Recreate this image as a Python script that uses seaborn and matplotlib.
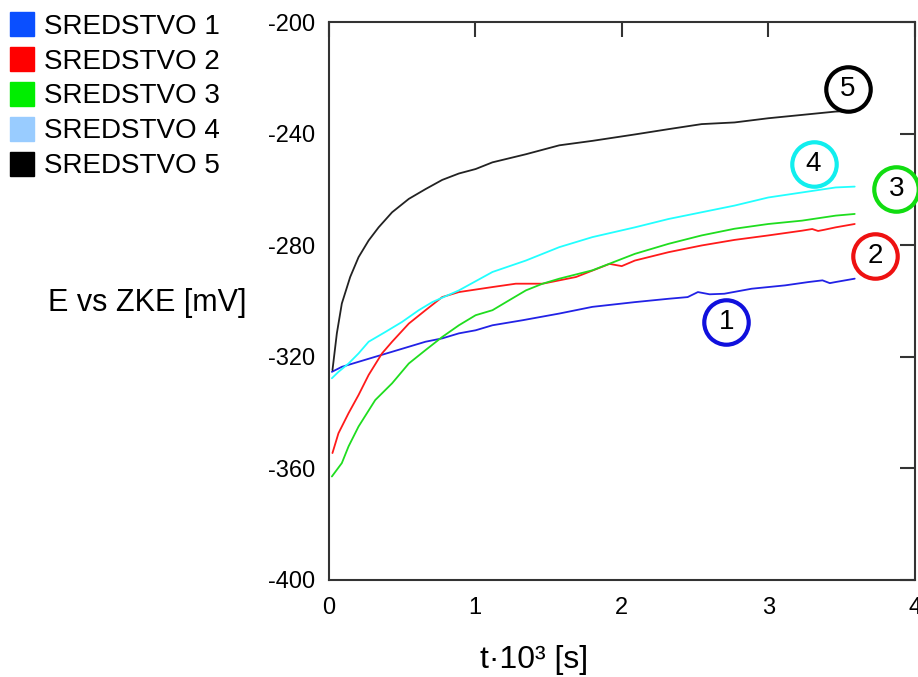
import matplotlib
matplotlib.use("Agg")
import matplotlib.pyplot as plt
from matplotlib.lines import Line2D
import pandas as pd
import seaborn as sns

# values (t in 10^3 s, E in mV)
t1 = [0.022, 0.09, 0.204, 0.318, 0.433, 0.547, 0.661, 0.775, 0.889, 1.003, 1.118, 1.323,
      1.574, 1.80, 2.09, 2.32, 2.45, 2.52, 2.60, 2.70, 2.887, 3.115, 3.275, 3.37, 3.42, 3.46, 3.59]
e1 = [-325.4, -323.6, -321.8, -320.0, -318.2, -316.4, -314.6, -313.4, -311.6, -310.5, -308.7, -306.9,
      -304.5, -302.1, -300.4, -299.2, -298.6, -296.8, -297.6, -297.4, -295.6, -294.4, -293.2, -292.6,
      -293.6, -293.2, -292.0]

t2 = [0.026, 0.067, 0.136, 0.204, 0.273, 0.364, 0.433, 0.547, 0.661, 0.775, 0.889, 1.118, 1.277,
      1.46, 1.688, 1.917, 2.0, 2.09, 2.32, 2.545, 2.77, 3.0, 3.23, 3.30, 3.34, 3.38, 3.46, 3.59]
e2 = [-354.5, -347.4, -340.2, -333.7, -326.5, -318.8, -314.6, -308.1, -303.3, -298.6, -296.8, -295.0,
      -293.8, -293.8, -291.4, -286.7, -287.5, -285.5, -282.5, -280.1, -278.1, -276.5, -274.8, -274.2,
      -274.9, -274.5, -273.6, -272.4]

t3 = [0.022, 0.09, 0.136, 0.204, 0.318, 0.433, 0.547, 0.661, 0.775, 0.889, 1.003, 1.118, 1.23,
      1.346, 1.46, 1.574, 1.80, 2.09, 2.32, 2.545, 2.77, 3.0, 3.23, 3.46, 3.59]
e3 = [-362.9, -358.1, -352.1, -345.0, -335.5, -329.5, -322.4, -317.6, -312.9, -308.7, -305.1, -303.3,
      -299.8, -296.2, -293.8, -292.0, -289.0, -283.1, -279.5, -276.5, -274.1, -272.4, -271.2, -269.4,
      -268.8]

t4 = [0.022, 0.067, 0.136, 0.204, 0.273, 0.387, 0.501, 0.615, 0.707, 0.889, 1.118, 1.346, 1.574,
      1.80, 2.09, 2.32, 2.545, 2.77, 3.0, 3.23, 3.46, 3.59]
e4 = [-327.7, -325.4, -322.4, -318.8, -314.6, -311.1, -307.5, -303.3, -300.4, -296.2, -289.6, -285.5,
      -280.7, -277.1, -273.6, -270.6, -268.2, -265.8, -262.9, -261.1, -259.3, -259.0]

t5 = [0.026, 0.056, 0.09, 0.147, 0.204, 0.273, 0.341, 0.433, 0.547, 0.661, 0.775, 0.889, 1.003,
      1.118, 1.346, 1.574, 1.80, 2.09, 2.32, 2.545, 2.77, 3.0, 3.23, 3.46, 3.56]
e5 = [-324.8, -311.6, -300.9, -291.4, -284.3, -278.3, -273.6, -268.2, -263.4, -259.9, -256.6, -254.3,
      -252.7, -250.3, -247.4, -244.2, -242.6, -240.3, -238.4, -236.6, -236.0, -234.5, -233.3, -232.1,
      -231.9]

names = ['SREDSTVO 1', 'SREDSTVO 2', 'SREDSTVO 3', 'SREDSTVO 4', 'SREDSTVO 5']
line_colors = ['#2222e6', '#ff1a1a', '#1fdd1f', '#22ffff', '#222222']
legend_colors = ['#0a4fff', '#ff0000', '#00ee00', '#99ccff', '#000000']

# circled labels
mark_x = [2.713, 3.730, 3.874, 3.309, 3.544]
mark_y = [-307.4, -283.9, -259.7, -250.9, -224.1]
mark_colors = ['#1010dd', '#ee1111', '#11dd11', '#11eeee', '#000000']

xticks = [0, 1, 2, 3, 4]
yticks = [-400, -360, -320, -280, -240, -200]

frames = []
for name, t, e in zip(names, [t1, t2, t3, t4, t5], [e1, e2, e3, e4, e5]):
    frames.append(pd.DataFrame({'t': t, 'E': e, 'series': name}))
df = pd.concat(frames, ignore_index=True)

sns.set_style("white")
plt.rcParams['font.family'] = ['Liberation Sans', 'DejaVu Sans']
plt.rcParams['axes.unicode_minus'] = False

fig = plt.figure(figsize=(9.18, 6.77), dpi=100)
ax = fig.add_axes([0.358, 0.1433, 0.6385, 0.8242])

sns.lineplot(data=df, x='t', y='E', hue='series', palette=dict(zip(names, line_colors)),
             sort=False, estimator=None, legend=False, linewidth=1.3, ax=ax)

ax.set_xlim(0, 4)
ax.set_ylim(-400, -200)
ax.set_xticks(xticks)
ax.set_yticks(yticks)
ax.tick_params(direction='in', length=11, width=1.5, color='#333333', labelcolor='black',
               labelsize=17, top=True, right=True, pad=10)
ax.tick_params(axis='x', pad=12)
for sp in ax.spines.values():
    sp.set_color('#333333')
    sp.set_linewidth(1.5)

ax.set_xlabel('t·10³ [s]', fontsize=23, color='black')
ax.xaxis.set_label_coords(0.35, -0.143)
ax.xaxis.label.set_va('center')
ax.set_ylabel('E vs ZKE [mV]', fontsize=22, rotation=0, color='black')
ax.yaxis.set_label_coords(-0.309, 0.496)
ax.yaxis.label.set_va('center')
ax.yaxis.label.set_ha('center')

for i in range(5):
    ax.plot(mark_x[i], mark_y[i], marker='o', markersize=32, markerfacecolor='white',
            markeredgecolor=mark_colors[i], markeredgewidth=3, clip_on=False, zorder=5)
    ax.text(mark_x[i], mark_y[i], str(i + 1), fontsize=20, ha='center', va='center',
            color='black', zorder=6, clip_on=False)

handles = [Line2D([], [], marker='s', linestyle='none', markersize=17, color=c) for c in legend_colors]
fig.legend(handles, names, loc='upper left', bbox_to_anchor=(0.004, 0.988), frameon=False,
           fontsize=20, labelspacing=0.32, handlelength=0.95, handletextpad=0.3, borderpad=0.2,
           borderaxespad=0, labelcolor='black')

fig.savefig('out.png', dpi=100)
